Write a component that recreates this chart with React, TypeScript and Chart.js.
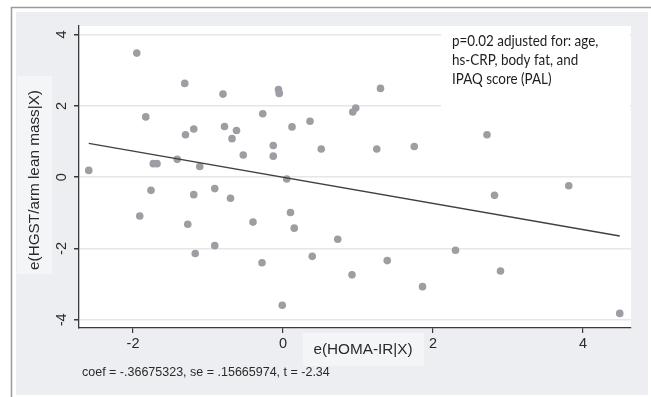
import React, { useEffect, useRef } from "react";
import { Chart, registerables } from "chart.js";

Chart.register(...registerables);

const residX = [
  -1.95, -1.31, -0.8, -1.83, -0.27, -1.3, -1.19, -0.78, -0.62, -0.68, -0.53, -1.73, -1.68, -1.41, -1.11, -2.59,
  -0.06, -0.05, 1.3, 0.97, 0.93, 0.12, 0.36, -0.13, -0.13, 0.51, 1.25, 1.75, 0.05, 2.72,
  -1.76, -1.19, -0.91, -0.7, -1.91, -1.27, -0.4, -0.91, -1.17, -0.28,
  0.1, 0.15, 0.73, 0.39, 1.39, 0.92, 1.86, -0.01,
  2.82, 3.81, 2.3, 2.9, 4.49,
];
const residY = [
  3.48, 2.63, 2.33, 1.69, 1.78, 1.19, 1.35, 1.42, 1.31, 1.08, 0.62, 0.38, 0.38, 0.5, 0.3, 0.19,
  2.46, 2.35, 2.49, 1.94, 1.83, 1.41, 1.57, 0.89, 0.59, 0.79, 0.79, 0.86, -0.05, 1.19,
  -0.37, -0.49, -0.32, -0.59, -1.09, -1.32, -1.26, -1.92, -2.14, -2.4,
  -0.99, -1.43, -1.74, -2.22, -2.34, -2.74, -3.07, -3.59,
  -0.51, -0.24, -2.05, -2.63, -3.82,
];
const fitX = [-2.59, 4.49];
const fitY = [0.95, -1.65];
const xTicks = [-2, 0, 2, 4];
const yTicks = [-4, -2, 0, 2, 4];
const xTitle = "e(HOMA-IR|X)";
const yTitle = "e(HGST/arm lean mass|X)";
const noteLines = ["p=0.02 adjusted for: age,", "hs-CRP, body fat, and", "IPAQ score (PAL)"];
const footnote = "coef = -.36675323, se = .15665974, t = -2.34";

const PANEL = "#eceef1";
const LABELBOX = "#f4f5f6";
const AXIS = "#3a3a3a";

const decor = {
  id: "decor",
  beforeDraw(chart: any) {
    const ctx = chart.ctx;
    const a = chart.chartArea;
    ctx.save();
    ctx.fillStyle = "#ffffff";
    ctx.fillRect(0, 0, chart.width, chart.height);
    ctx.strokeStyle = "#9a9a9a";
    ctx.lineWidth = 1.5;
    ctx.beginPath();
    ctx.moveTo(11.5, chart.height);
    ctx.lineTo(11.5, 7.5);
    ctx.lineTo(chart.width, 7.5);
    ctx.stroke();
    ctx.fillStyle = PANEL;
    ctx.fillRect(16, 12, 632, 383);
    ctx.fillStyle = "#ffffff";
    ctx.fillRect(a.left, a.top, a.right - a.left, a.bottom - a.top);
    ctx.fillStyle = LABELBOX;
    ctx.fillRect(17, 76, 35, 198);
    ctx.fillRect(303, 333, 121, 33);
    ctx.restore();
  },
  beforeDatasetsDraw(chart: any) {
    const ctx = chart.ctx;
    const a = chart.chartArea;
    ctx.save();
    ctx.fillStyle = "#ffffff";
    ctx.fillRect(441, a.top, a.right - 441 - 1, 82);
    ctx.restore();
  },
  afterDraw(chart: any) {
    const ctx = chart.ctx;
    const xs = chart.scales.x;
    const ys = chart.scales.y;
    ctx.save();
    ctx.fillStyle = "#2a2a2a";
    ctx.font = "14.5px 'Liberation Sans', Arial, sans-serif";
    ctx.textAlign = "center";
    ctx.textBaseline = "middle";
    for (const v of xTicks) {
      ctx.fillText(String(v), xs.getPixelForValue(v), 344);
    }
    for (const v of yTicks) {
      const py = ys.getPixelForValue(v);
      ctx.save();
      ctx.translate(62, py);
      ctx.rotate(-Math.PI / 2);
      ctx.fillText(String(v), 0, 0);
      ctx.restore();
    }
    ctx.font = "15.3px 'Liberation Sans', Arial, sans-serif";
    ctx.fillText(xTitle, 363, 350);
    ctx.save();
    ctx.translate(35, 180);
    ctx.rotate(-Math.PI / 2);
    ctx.fillText(yTitle, 0, 0);
    ctx.restore();
    ctx.font = "12.5px 'Liberation Sans', Arial, sans-serif";
    ctx.textAlign = "left";
    ctx.fillText(footnote, 82, 373);
    ctx.fillStyle = "#1e1e1e";
    ctx.font = "15px Lato, 'Open Sans', sans-serif";
    noteLines.forEach((t, i) => {
      ctx.save();
      ctx.translate(452, 41 + i * 19);
      ctx.scale(0.895, 1);
      ctx.fillText(t, 0, 0);
      ctx.restore();
    });
    ctx.restore();
  },
};

export default function App() {
  const ref = useRef<HTMLCanvasElement | null>(null);
  useEffect(() => {
    if (!ref.current) return;
    const chart = new Chart(ref.current, {
      type: "scatter",
      data: {
        datasets: [
          {
            type: "scatter",
            data: residX.map((x, i) => ({ x, y: residY[i] })),
            backgroundColor: "#9d9ea3",
            borderWidth: 0,
            pointRadius: 3.8,
            order: 2,
          },
          {
            type: "line",
            data: fitX.map((x, i) => ({ x, y: fitY[i] })),
            borderColor: "#404040",
            borderWidth: 1.3,
            pointRadius: 0,
            fill: false,
            order: 1,
          } as any,
        ],
      },
      options: {
        animation: false,
        responsive: false,
        events: [],
        layout: { padding: { left: 69, top: 26, right: 20, bottom: 59 } },
        plugins: { legend: { display: false }, tooltip: { enabled: false } },
        scales: {
          x: {
            type: "linear",
            min: -2.72,
            max: 4.64,
            afterFit: (s: any) => { s.height = 10; },
            afterBuildTicks: (s: any) => { s.ticks = xTicks.map((v) => ({ value: v })); },
            ticks: { display: false },
            grid: { drawOnChartArea: false, drawTicks: true, tickLength: 5, color: AXIS, tickColor: AXIS, lineWidth: 1.2 },
            border: { display: true, color: AXIS, width: 1.3 },
          },
          y: {
            type: "linear",
            min: -4.23,
            max: 4.24,
            afterFit: (s: any) => { s.width = 10; },
            afterBuildTicks: (s: any) => { s.ticks = yTicks.map((v) => ({ value: v })); },
            ticks: { display: false },
            grid: { drawOnChartArea: true, drawTicks: true, tickLength: 5, color: "#e6e6e6", tickColor: AXIS, lineWidth: 1.5 },
            border: { display: true, color: AXIS, width: 1.3 },
          },
        },
      },
      plugins: [decor],
    });
    return () => chart.destroy();
  }, []);
  return (
    <div style={{ position: "fixed", left: 0, top: 0, width: 651, height: 397 }}>
      <canvas ref={ref} width={651} height={397} style={{ display: "block" }} />
    </div>
  );
}
